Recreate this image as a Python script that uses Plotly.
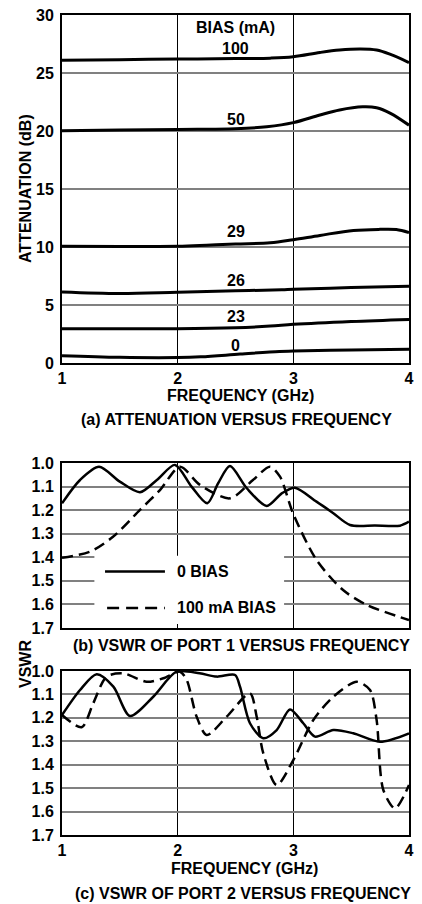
import plotly.graph_objects as go

# ---------------- DATA ----------------
# (a) Attenuation (dB) versus frequency (GHz), per bias current
att_freq_100 = [1.0, 1.5, 2.0, 2.5, 2.8, 3.0, 3.23, 3.4, 3.58, 3.72, 3.84, 4.0]
att_100 = [26.1, 26.15, 26.2, 26.25, 26.28, 26.4, 26.77, 26.98, 27.07, 26.98, 26.6, 25.9]
att_freq_50 = [1.0, 1.5, 2.0, 2.5, 2.77, 3.0, 3.23, 3.4, 3.6, 3.72, 3.84, 4.0]
att_50 = [20.02, 20.08, 20.14, 20.2, 20.37, 20.72, 21.38, 21.81, 22.08, 22.0, 21.52, 20.5]
att_freq_29 = [1.0, 1.5, 2.0, 2.25, 2.5, 2.8, 3.0, 3.23, 3.52, 3.75, 3.89, 4.0]
att_29 = [10.06, 10.05, 10.06, 10.15, 10.26, 10.36, 10.63, 11.0, 11.43, 11.52, 11.5, 11.24]
att_freq_26 = [1.0, 1.5, 2.0, 2.5, 2.9, 3.0, 3.5, 4.0]
att_26 = [6.12, 5.99, 6.1, 6.22, 6.32, 6.36, 6.5, 6.62]
att_freq_23 = [1.0, 1.5, 2.0, 2.5, 2.8, 3.0, 3.5, 4.0]
att_23 = [2.95, 2.95, 2.95, 3.04, 3.18, 3.33, 3.58, 3.76]
att_freq_0 = [1.0, 1.5, 2.0, 2.2, 2.54, 2.88, 3.0, 3.5, 4.0]
att_0 = [0.63, 0.49, 0.47, 0.53, 0.77, 1.0, 1.03, 1.12, 1.18]
att_labels = ["100", "50", "29", "26", "23", "0"]
att_label_y = [27.15, 21.0, 11.3, 7.15, 3.97, 1.55]

# (b) VSWR of port 1
p1_freq_0 = [1.0, 1.156, 1.32, 1.5, 1.674, 1.82, 1.977, 2.12, 2.256, 2.35, 2.452,
             2.597, 2.77, 2.9, 3.013, 3.2, 3.343, 3.49, 3.706, 3.922, 4.0]
p1_vswr_0 = [1.171, 1.072, 1.016, 1.079, 1.124, 1.072, 1.008, 1.10, 1.171, 1.086, 1.013,
             1.107, 1.182, 1.129, 1.105, 1.164, 1.212, 1.263, 1.265, 1.266, 1.249]
p1_freq_100 = [1.0, 1.242, 1.441, 1.674, 1.847, 2.02, 2.193, 2.452, 2.651, 2.798,
               2.885, 2.997, 3.2, 3.43, 3.634, 4.0]
p1_vswr_100 = [1.402, 1.376, 1.313, 1.199, 1.115, 1.016, 1.093, 1.15, 1.072, 1.016,
               1.058, 1.213, 1.411, 1.539, 1.602, 1.666]

# (c) VSWR of port 2
p2_freq_0 = [1.0, 1.156, 1.30, 1.444, 1.588, 1.789, 1.99, 2.19, 2.337, 2.496, 2.539,
             2.625, 2.74, 2.856, 2.971, 3.086, 3.187, 3.346, 3.518, 3.749, 4.0]
p2_vswr_0 = [1.188, 1.081, 1.014, 1.067, 1.192, 1.11, 1.003, 1.01, 1.024, 1.017, 1.067,
             1.223, 1.287, 1.252, 1.164, 1.223, 1.28, 1.252, 1.266, 1.302, 1.266]
p2_freq_100 = [1.0, 1.17, 1.27, 1.386, 1.53, 1.732, 1.876, 2.02, 2.078, 2.164, 2.251,
               2.424, 2.625, 2.683, 2.74, 2.856, 3.0, 3.173, 3.346, 3.548, 3.663,
               3.72, 3.778, 3.879, 4.0]
p2_vswr_100 = [1.188, 1.24, 1.138, 1.024, 1.01, 1.046, 1.031, 1.003, 1.038, 1.195, 1.273,
               1.195, 1.095, 1.195, 1.351, 1.487, 1.38, 1.209, 1.11, 1.046, 1.081,
               1.209, 1.508, 1.586, 1.487]

freq_ticks = [1, 2, 3, 4]
freq_ticktext = ["1", "2", "3", "4"]
att_ticks = [0, 5, 10, 15, 20, 25, 30]
att_ticktext = ["0", "5", "10", "15", "20", "25", "30"]
vswr_ticks = [1.0, 1.1, 1.2, 1.3, 1.4, 1.5, 1.6, 1.7]
vswr_ticktext = ["1.0", "1.1", "1.2", "1.3", "1.4", "1.5", "1.6", "1.7"]

# ---------------- FIGURE ----------------
W, H = 422, 904
OFF = 8  # the page body adds an 8px margin around the figure
FONT = "Liberation Sans, Arial, sans-serif"
FS = 16


def px(x):
    return (x - OFF) / W


def py(y):
    return 1 - (y - OFF) / H


def b(t):
    return "<b>" + t + "</b>"


fig = go.Figure()

att_series = [(att_freq_100, att_100), (att_freq_50, att_50), (att_freq_29, att_29),
              (att_freq_26, att_26), (att_freq_23, att_23), (att_freq_0, att_0)]
for fx, fy in att_series:
    fig.add_trace(go.Scatter(x=fx, y=fy, mode="lines", xaxis="x", yaxis="y",
                             line=dict(color="black", width=3, shape="spline", smoothing=1),
                             showlegend=False, hoverinfo="skip"))

DASH = "11px,6px"
for fx, fy, dash, ax in [
    (p1_freq_0, p1_vswr_0, "solid", ("x2", "y2")),
    (p1_freq_100, p1_vswr_100, DASH, ("x2", "y2")),
    (p2_freq_0, p2_vswr_0, "solid", ("x3", "y3")),
    (p2_freq_100, p2_vswr_100, DASH, ("x3", "y3")),
]:
    fig.add_trace(go.Scatter(x=fx, y=fy, mode="lines", xaxis=ax[0], yaxis=ax[1],
                             line=dict(color="black", width=2.5, dash=dash,
                                       shape="spline", smoothing=0.8),
                             showlegend=False, hoverinfo="skip"))

xdom = [px(62), px(409)]
tickfont = dict(family=FONT, size=FS, color="black")

common_x = dict(domain=xdom, range=[1, 4], tickvals=freq_ticks,
                ticktext=[b(t) for t in freq_ticktext], showgrid=True,
                gridcolor="black", gridwidth=1, showline=True, mirror=True,
                linecolor="black", linewidth=2, ticks="", tickfont=tickfont,
                zeroline=False, fixedrange=True, automargin=False,
                ticklabeloverflow="allow")
common_y = dict(showgrid=True, gridcolor="#808080", gridwidth=1.5, showline=True,
                mirror=True, linecolor="black", linewidth=2, ticks="",
                tickfont=tickfont, zeroline=False, fixedrange=True,
                ticklabelstandoff=3, automargin=False, ticklabeloverflow="allow")

fig.update_layout(
    width=W, height=H,
    margin=dict(l=0, r=0, t=0, b=0),
    paper_bgcolor="white", plot_bgcolor="white",
    showlegend=False,
    xaxis=dict(common_x, anchor="y", ticklabelstandoff=0),
    yaxis=dict(common_y, anchor="x", domain=[py(363), py(15)], range=[0, 30],
               tickvals=att_ticks, ticktext=[b(t) for t in att_ticktext]),
    xaxis2=dict(common_x, anchor="y2", showticklabels=False),
    yaxis2=dict(common_y, anchor="x2", domain=[py(628), py(463)], range=[1.7, 1.0],
                tickvals=vswr_ticks, ticktext=[b(t) for t in vswr_ticktext]),
    xaxis3=dict(common_x, anchor="y3", ticklabelstandoff=0),
    yaxis3=dict(common_y, anchor="x3", domain=[py(835), py(671)], range=[1.7, 1.0],
                tickvals=vswr_ticks, ticktext=[b(t) for t in vswr_ticktext]),
)

ann = []


def text_ann(t, x, y, xref="paper", yref="paper", xanchor="center", angle=0, size=FS):
    ann.append(dict(text=b(t), x=x, y=y, xref=xref, yref=yref, xanchor=xanchor,
                    yanchor="middle", showarrow=False, textangle=angle,
                    font=dict(family=FONT, size=size, color="black")))


# curve labels in chart (a)
text_ann("BIAS (mA)", 2.5, 28.9, "x", "y")
for lab, ly in zip(att_labels, att_label_y):
    text_ann(lab, 2.5, ly, "x", "y")

# axis titles and captions
text_ann("ATTENUATION (dB)", px(25), py(189), angle=-90)
text_ann("FREQUENCY (GHz)", px(240), py(395))
text_ann("(a) ATTENUATION VERSUS FREQUENCY", px(236), py(420))
text_ann("(b) VSWR OF PORT 1 VERSUS FREQUENCY", px(242), py(645))
text_ann("VSWR", px(25), py(664), angle=-90)
text_ann("FREQUENCY (GHz)", px(244), py(868))
text_ann("(c) VSWR OF PORT 2 VERSUS FREQUENCY", px(243), py(893))

# legend in chart (b)
text_ann("0 BIAS", 1.98, 1.46, "x2", "y2", xanchor="left")
text_ann("100 mA BIAS", 1.98, 1.615, "x2", "y2", xanchor="left")

fig.update_layout(annotations=ann)

shapes = [
    dict(type="rect", xref="x2", yref="y2", x0=1.28, x1=2.92, y0=1.394, y1=1.683,
         fillcolor="white", line=dict(width=0), layer="between"),
    dict(type="line", xref="x2", yref="y2", x0=1.372, x1=1.89, y0=1.46, y1=1.46,
         line=dict(color="black", width=2.5), layer="above"),
    dict(type="line", xref="x2", yref="y2", x0=1.39, x1=1.89, y0=1.615, y1=1.615,
         line=dict(color="black", width=2.5, dash="12px,7px"), layer="above"),
]
fig.update_layout(shapes=shapes)

fig.write_html("out.html")
